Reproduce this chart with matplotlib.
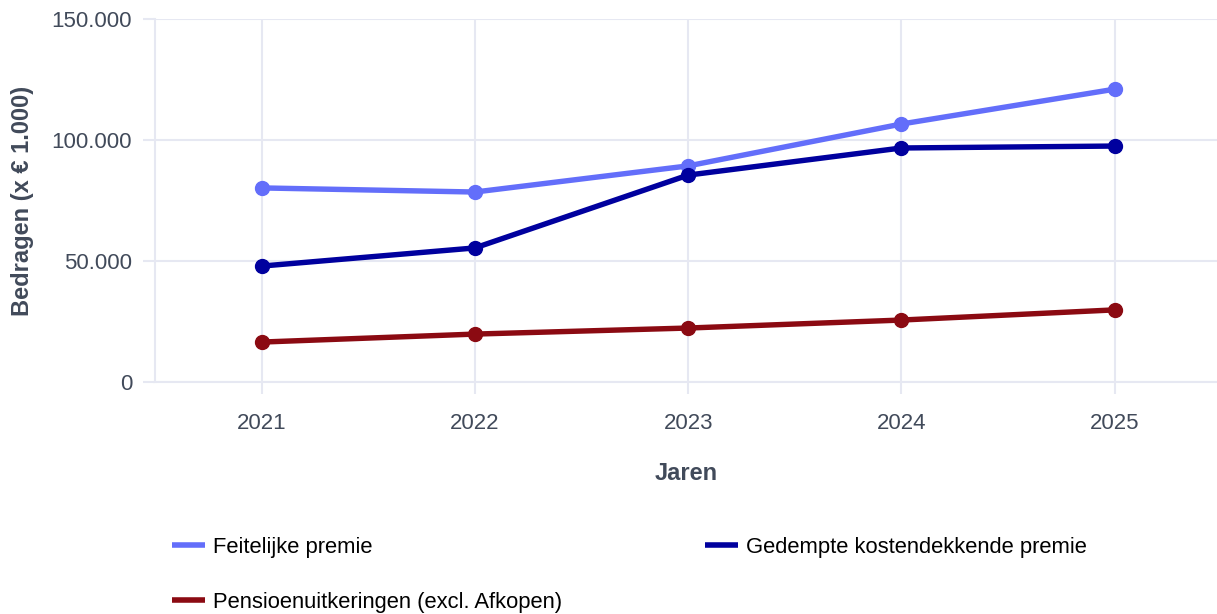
import matplotlib
matplotlib.use("Agg")
import matplotlib.pyplot as plt
from matplotlib.ticker import FuncFormatter
from matplotlib.lines import Line2D

plt.rcParams['font.family'] = ['Liberation Sans', 'DejaVu Sans']

# data (x € 1.000)
jaren = [2021, 2022, 2023, 2024, 2025]
feitelijke = [80200, 78500, 89300, 106600, 121000]
gedempte = [47900, 55400, 85500, 96700, 97500]
pensioen = [16500, 19800, 22300, 25600, 29800]

series = [
    ("Feitelijke premie", feitelijke, "#636EFA"),
    ("Pensioenuitkeringen (excl. Afkopen)", pensioen, "#8B0A12"),
    ("Gedempte kostendekkende premie", gedempte, "#00009E"),
]

grid_c = "#E6E8F2"
txt_c = "#414a5a"

fig = plt.figure(figsize=(12.17, 6.14), dpi=100)
W, H = 1217, 614
ax = fig.add_axes([155 / W, 1 - 382 / H, (1217 - 155) / W, (382 - 19) / H])

for name, vals, col in series:
    ax.plot(jaren, vals, color=col, lw=3.9, marker='o', ms=10,
            solid_capstyle='round', label=name, zorder=3)

ax.set_xlim(2020.5, 2025.48)
ax.set_ylim(0, 150000)
ax.set_xticks(jaren)
ax.set_yticks([0, 50000, 100000, 150000])
ax.yaxis.set_major_formatter(FuncFormatter(lambda v, p: f"{int(v):,}".replace(",", ".")))

ax.grid(True, color=grid_c, lw=1.5, zorder=0)
for s in ['top', 'right']:
    ax.spines[s].set_visible(False)
for s in ['left', 'bottom']:
    ax.spines[s].set_color(grid_c)
    ax.spines[s].set_linewidth(1.5)
ax.tick_params(axis='both', length=8.5, width=1.5, color=grid_c, labelsize=16,
               labelcolor=txt_c)
ax.tick_params(axis='x', pad=14)
ax.tick_params(axis='y', pad=8)

ax.set_xlabel("Jaren", fontsize=17, fontweight='bold', color=txt_c, labelpad=20)
ax.set_ylabel("Bedragen (x € 1.000)", fontsize=17, fontweight='bold', color=txt_c, labelpad=13)

leg_handles = [Line2D([0], [0], color=c, lw=4, solid_capstyle='butt') for _, _, c in series]
fig.legend(leg_handles, [n for n, _, _ in series], ncol=2, frameon=False,
           loc='upper left', bbox_to_anchor=(172 / W, 1 - 537 / H),
           fontsize=15.8, handlelength=1.5, handletextpad=0.38,
           columnspacing=6.5, labelspacing=1.55, borderpad=0, borderaxespad=0)

fig.savefig("out.png", dpi=100)
